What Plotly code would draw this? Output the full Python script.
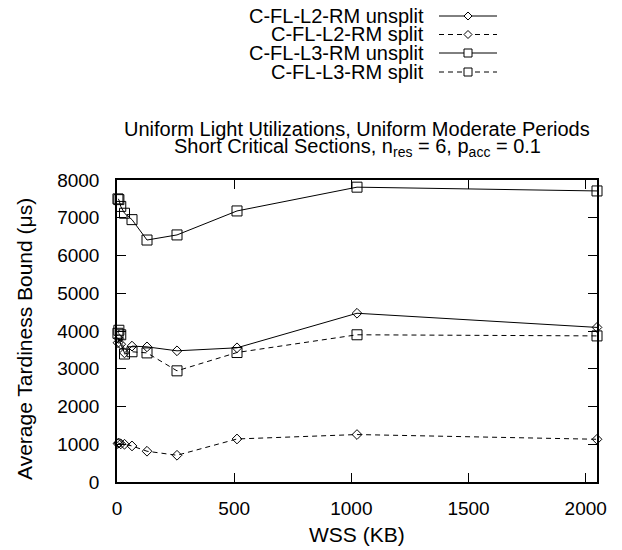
import plotly.graph_objects as go

wss_kb = [4, 8, 16, 32, 64, 128, 256, 512, 1024, 2048]
l2_unsplit = [3690, 3800, 3650, 3420, 3600, 3580, 3475, 3555, 4470, 4095]
l2_split = [1020, 1030, 1010, 1000, 955, 815, 708, 1140, 1257, 1132]
l3_unsplit = [7500, 7480, 7300, 7120, 6950, 6410, 6545, 7180, 7810, 7710]
l3_split = [3940, 4020, 3900, 3390, 3450, 3420, 2945, 3430, 3900, 3870]

series_names = ["C-FL-L2-RM unsplit", "C-FL-L2-RM split",
                "C-FL-L3-RM unsplit", "C-FL-L3-RM split"]
series_values = [l2_unsplit, l2_split, l3_unsplit, l3_split]
series_symbols = ["diamond-open", "diamond-open", "square-open", "square-open"]
series_dash = ["solid", "5px,4px", "solid", "5px,4px"]
series_sizes = [7.5, 7.5, 10, 10]

x_ticks = [0, 500, 1000, 1500, 2000]
y_ticks = [0, 1000, 2000, 3000, 4000, 5000, 6000, 7000, 8000]

OFF = 8  # default page body margin
W, H = 622 - OFF, 550 - OFF
# plot area in screen pixels: x 117..597, y 180..482
SL, SR, ST, SB = 117, 597, 180, 482
ML, MT = SL - OFF, ST - OFF
MR, MB = W - (SR - OFF), H - (SB - OFF)
PW, PH = SR - SL, SB - ST


def px2x(px):
    return (px - SL) / PW


def py2y(py):
    return (SB - py) / PH


FONT = "Liberation Sans, Arial, Helvetica, sans-serif"

fig = go.Figure()
for name, vals, sym, dash, size in zip(series_names, series_values,
                                       series_symbols, series_dash, series_sizes):
    fig.add_trace(go.Scatter(
        x=wss_kb, y=vals, name=name, mode="lines+markers",
        line=dict(color="black", width=1, dash=dash),
        marker=dict(symbol=sym, size=size, color="black",
                    line=dict(color="black", width=1)),
        showlegend=False, cliponaxis=False,
    ))

shapes = []
annotations = []

# manual legend (gnuplot style: text right-aligned, sample on the right)
row_y = [16, 34.5, 53, 72]
for i, name in enumerate(series_names):
    yy = py2y(row_y[i])
    annotations.append(dict(
        x=px2x(426), y=yy, xref="paper", yref="paper", text=name,
        showarrow=False, xanchor="right", yanchor="middle",
        font=dict(family=FONT, size=20, color="black")))
    shapes.append(dict(
        type="line", xref="paper", yref="paper",
        x0=px2x(439), x1=px2x(497), y0=yy, y1=yy,
        line=dict(color="black", width=1, dash=series_dash[i])))
    if series_symbols[i].startswith("diamond"):
        path = "M -4 0 L 0 4 L 4 0 L 0 -4 Z"
    else:
        path = "M -4 -4 L 4 -4 L 4 4 L -4 4 Z"
    shapes.append(dict(
        type="path", xref="paper", yref="paper",
        xsizemode="pixel", ysizemode="pixel",
        xanchor=px2x(468), yanchor=yy, path=path,
        fillcolor="white", line=dict(color="black", width=1)))

# title (two lines, gnuplot-like tight spacing)
annotations.append(dict(
    x=0.5, y=py2y(129), xref="paper", yref="paper",
    text="Uniform Light Utilizations, Uniform Moderate Periods",
    showarrow=False, xanchor="center", yanchor="middle",
    font=dict(family=FONT, size=20, color="black")))
annotations.append(dict(
    x=0.5, y=py2y(147), xref="paper", yref="paper",
    text="Short Critical Sections, n<sub>res</sub> = 6, p<sub>acc</sub> = 0.1",
    showarrow=False, xanchor="center", yanchor="middle",
    font=dict(family=FONT, size=20, color="black")))

# axis titles
annotations.append(dict(
    x=px2x(24), y=py2y(339), xref="paper", yref="paper",
    text="Average Tardiness Bound (\u03bcs)", textangle=-90,
    showarrow=False, xanchor="center", yanchor="middle",
    font=dict(family=FONT, size=21, color="black")))
annotations.append(dict(
    x=0.5, y=py2y(534), xref="paper", yref="paper",
    text="WSS (KB)",
    showarrow=False, xanchor="center", yanchor="middle",
    font=dict(family=FONT, size=21, color="black")))

fig.update_layout(
    width=W, height=H,
    margin=dict(l=ML, r=MR, t=MT, b=MB, pad=0),
    paper_bgcolor="white", plot_bgcolor="white",
    font=dict(family=FONT, size=19, color="black"),
    shapes=shapes, annotations=annotations,
    showlegend=False,
)
fig.update_xaxes(
    range=[0, 2048], tickvals=x_ticks, ticktext=[str(v) for v in x_ticks],
    showgrid=False, zeroline=False, showline=True, linecolor="black",
    linewidth=1.5, mirror="ticks", ticks="inside", ticklen=9,
    tickcolor="black", tickwidth=1.2, ticklabelstandoff=8,
    tickfont=dict(family=FONT, size=19, color="black"),
)
fig.update_yaxes(
    range=[0, 8000], tickvals=y_ticks, ticktext=[str(v) for v in y_ticks],
    showgrid=False, zeroline=False, showline=True, linecolor="black",
    linewidth=1.5, mirror="ticks", ticks="inside", ticklen=9,
    tickcolor="black", tickwidth=1.2, ticklabelstandoff=12,
    tickfont=dict(family=FONT, size=19, color="black"),
)

fig.write_html("out.html")
